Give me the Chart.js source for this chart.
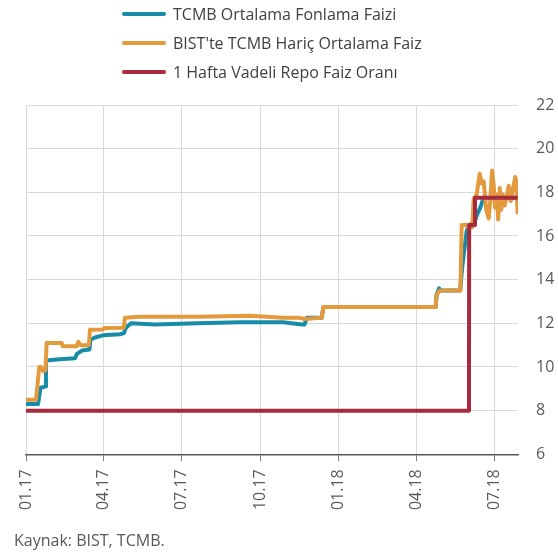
<!DOCTYPE html>
<html>
<head>
<meta charset="utf-8">
<script src="https://cdn.jsdelivr.net/npm/chart.js@4.4.1/dist/chart.umd.min.js"></script>
<style>
  body { margin: 0; background: #fff; }
  #wrap { position: relative; width: 558px; height: 560px; font-family: "Open Sans", sans-serif; }
  #legend { position: absolute; left: 122px; top: -1px; }
  .item { height: 29.3px; display: flex; align-items: center; font-size: 16px; color: #404040; white-space: nowrap; }
  .item .ln { width: 44px; height: 4px; border-radius: 2px; margin-right: 7px; }
  #src { position: absolute; left: 14px; top: 529px; font-size: 16px; color: #595959; }
  canvas { position: absolute; left: 0; top: 0; }
</style>
</head>
<body>
<div id="wrap">
  <canvas id="canvas1" width="558" height="560"></canvas>
  <div id="legend"></div>
  <div id="src">Kaynak: BIST, TCMB.</div>
</div>
<script>
// x = gün (01.01.2017 = 0)
var tickDays = [0, 90, 181, 273, 365, 455, 546];
var tickLabels = ["01.17", "04.17", "07.17", "10.17", "01.18", "04.18", "07.18"];

var seriesNames = ["TCMB Ortalama Fonlama Faizi", "BIST'te TCMB Hariç Ortalama Faiz", "1 Hafta Vadeli Repo Faiz Oranı"];
var seriesColors = ["#178ca8", "#e29a3c", "#a82a3f"];

var fonlamaDays = [0, 14, 16.9, 22.2, 23.3, 39.6, 57.1, 59.5, 65.3, 74, 75.2, 80.4, 89.8, 109.6, 114.3, 116.6, 122.4,
  150, 200, 250, 300, 322, 325, 327.6, 345, 347, 478, 479, 482, 484, 506.5, 509, 514, 516.5, 523, 526.5, 530, 533.5, 536.3, 573.6];
var fonlamaVals = [8.3, 8.3, 9.05, 9.1, 10.3, 10.35, 10.4, 10.6, 10.75, 10.8, 11.25, 11.35, 11.45, 11.5, 11.55, 11.8, 12.0,
  11.95, 12.0, 12.05, 12.05, 11.95, 11.95, 12.25, 12.25, 12.75, 12.75, 13.3, 13.6, 13.5, 13.5, 14.6, 16.2, 16.5, 16.6, 17.0, 17.3, 17.7, 17.75, 17.75];

var bistDays = [0, 11.7, 15.5, 17.5, 20.2, 22.7, 24.1, 41.6, 43, 59, 61, 64, 73.4, 74.6, 89.8, 91, 114, 115.4,
  133, 200, 261, 300, 319, 325, 345, 347, 478, 479, 482.7, 506.8, 508.3, 514.2, 516.6, 520.6, 522.3, 525.8, 529.3,
  531.7, 534, 536.9, 539.8, 541.6, 543.7, 545.7, 547.2, 549.2, 550.9, 552.7, 554.4, 556.1, 558.5, 560.8, 563.1,
  565.5, 567.8, 570.7, 571.9, 573.6];
var bistVals = [8.5, 8.5, 10.0, 10.0, 9.8, 9.85, 11.1, 11.1, 10.95, 10.95, 11.15, 11.0, 11.0, 11.7, 11.72, 11.78, 11.8, 12.25,
  12.3, 12.3, 12.35, 12.25, 12.25, 12.2, 12.25, 12.75, 12.75, 13.3, 13.5, 13.5, 16.5, 16.5, 16.35, 16.4, 17.7, 17.9, 18.85,
  18.4, 18.5, 17.2, 16.8, 17.6, 19.0, 18.3, 17.3, 17.9, 16.75, 18.2, 17.2, 17.9, 17.4, 17.8, 18.3,
  17.6, 18.1, 18.7, 18.5, 17.0];

var repoDays = [0, 516.8, 517, 523.5, 523.8, 573.6];
var repoVals = [8, 8, 16.5, 16.5, 17.75, 17.75];

function pts(days, vals) {
  return days.map(function (d, i) { return { x: d, y: vals[i] }; });
}

var allData = [pts(fonlamaDays, fonlamaVals), pts(bistDays, bistVals), pts(repoDays, repoVals)];

var datasets = seriesNames.map(function (name, i) {
  return {
    label: name,
    data: allData[i],
    borderColor: seriesColors[i],
    backgroundColor: seriesColors[i],
    borderWidth: 4,
    pointRadius: 0,
    borderJoinStyle: "round",
    order: 3 - i
  };
});

// legend
var legendHtml = "";
seriesNames.forEach(function (name, i) {
  legendHtml += '<div class="item"><span class="ln" style="background:' + seriesColors[i] + '"></span>' + name + '</div>';
});
document.getElementById("legend").innerHTML = legendHtml;

new Chart(document.getElementById("canvas1"), {
  type: "line",
  data: { datasets: datasets },
  options: {
    responsive: false,
    animation: false,
    layout: { padding: { top: 105, left: 26, right: 0, bottom: 0 } },
    plugins: { legend: { display: false }, tooltip: { enabled: false } },
    scales: {
      x: {
        type: "linear",
        min: 0,
        max: 574,
        afterBuildTicks: function (axis) {
          axis.ticks = tickDays.map(function (d) { return { value: d }; });
        },
        afterFit: function (s) { s.height = 105.7; },
        grid: { color: "#d9d9d9", tickColor: "#7f7f7f", tickLength: 7 },
        border: { color: "#595959", width: 1.5 },
        ticks: {
          autoSkip: false,
          minRotation: 90,
          maxRotation: 90,
          padding: 8,
          color: "#595959",
          font: { family: "Open Sans", size: 16 },
          callback: function (v) { return tickLabels[tickDays.indexOf(v)]; }
        }
      },
      y: {
        position: "right",
        min: 6,
        max: 22,
        afterFit: function (s) { s.width = 40; },
        grid: { color: "#d9d9d9", drawTicks: false },
        border: { display: false },
        ticks: {
          stepSize: 2,
          padding: 18,
          color: "#595959",
          font: { family: "Open Sans", size: 16 }
        }
      }
    }
  }
});
</script>
</body>
</html>
